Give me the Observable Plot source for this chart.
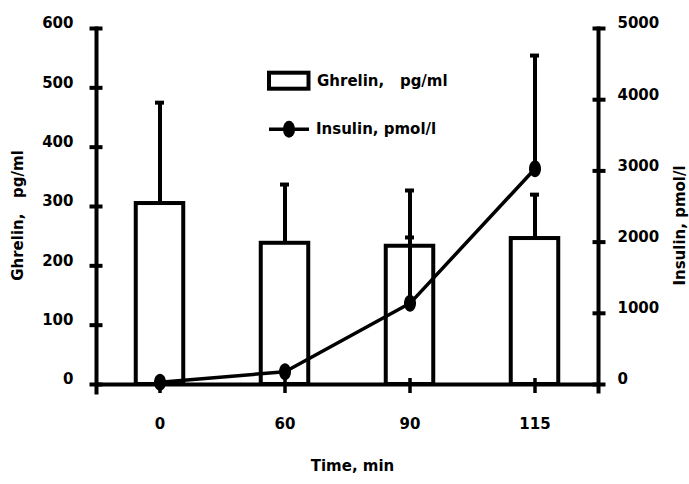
<!DOCTYPE html>
<html>
<head>
<meta charset="utf-8">
<script src="https://cdn.jsdelivr.net/npm/d3@7"></script>
<script src="https://cdn.jsdelivr.net/npm/@observablehq/plot@0.6"></script>
<style>
  html, body { margin: 0; padding: 0; background: #fff; }
  svg text { white-space: pre; }
</style>
</head>
<body>
<div id="chart"></div>
<script>
// ---- data ----
const times = ["0", "60", "90", "115"];
const ghrelin = [305, 238, 233, 246];          // pg/ml (bar heights)
const ghrelinTop = [475, 337, 327, 320];       // mean + SD
const insulin = [30, 180, 1140, 3030];         // pmol/l
const insulinTop = [null, null, 2065, 4620];   // mean + SD
const ghrelinTicks = [0, 100, 200, 300, 400, 500, 600];
const insulinTicks = [0, 1000, 2000, 3000, 4000, 5000];
const legendLabels = ["Ghrelin,   pg/ml", "Insulin, pmol/l"];
const yLabel = "Ghrelin,   pg/ml";
const y2Label = "Insulin, pmol/l";
const xLabel = "Time, min";

// insulin is drawn against the right axis: 0–5000 maps onto 0–600
const k = 600 / 5000;

const rows = times.map((t, i) => ({
  t, g: ghrelin[i], gTop: ghrelinTop[i], ins: insulin[i] * k,
  insTop: insulinTop[i] == null ? null : insulinTop[i] * k
}));

const FONT = "DejaVu Sans";
const FS = 15;

const ellipse = {
  draw(ctx) {
    const rx = 6, ry = 8.5, c = 0.5523;
    ctx.moveTo(rx, 0);
    ctx.bezierCurveTo(rx, ry * c, rx * c, ry, 0, ry);
    ctx.bezierCurveTo(-rx * c, ry, -rx, ry * c, -rx, 0);
    ctx.bezierCurveTo(-rx, -ry * c, -rx * c, -ry, 0, -ry);
    ctx.bezierCurveTo(rx * c, -ry, rx, -ry * c, rx, 0);
    ctx.closePath();
  }
};

function legend() {
  const g = d3.create("svg:g");
  g.append("rect").attr("x", 269).attr("y", 72.7).attr("width", 39.5).attr("height", 16)
    .attr("fill", "white").attr("stroke", "black").attr("stroke-width", 4);
  g.append("text").attr("x", 317).attr("y", 86).text(legendLabels[0])
    .attr("text-anchor", "start")
    .attr("font-family", FONT).attr("font-weight", "bold").attr("font-size", FS)
    .style("white-space", "pre");
  g.append("line").attr("x1", 269).attr("x2", 309).attr("y1", 129.3).attr("y2", 129.3)
    .attr("stroke", "black").attr("stroke-width", 3.5);
  g.append("ellipse").attr("cx", 289).attr("cy", 129.3).attr("rx", 6).attr("ry", 8.5).attr("fill", "black");
  g.append("text").attr("x", 316).attr("y", 133.5).text(legendLabels[1])
    .attr("text-anchor", "start")
    .attr("font-family", FONT).attr("font-weight", "bold").attr("font-size", FS);
  return g.node();
}

const noText = () => "";
const insTickPos = insulinTicks.map(v => v * k);

const chart = Plot.plot({
  width: 689,
  height: 484,
  marginLeft: 96,
  marginRight: 91,
  marginTop: 28,
  marginBottom: 100,
  style: {fontFamily: FONT, fontWeight: "bold", fontSize: "15px", background: "white", color: "black"},
  x: {type: "band", domain: times, padding: 0, axis: null},
  y: {domain: [0, 600], axis: null},
  marks: [
    // bars
    Plot.barY(rows, {x: "t", y: "g", fill: "white", stroke: "black", strokeWidth: 4, insetLeft: 38.75, insetRight: 38.75}),
    // ghrelin error bars
    Plot.ruleX(rows, {x: "t", y1: "g", y2: "gTop", stroke: "black", strokeWidth: 4}),
    Plot.tickY(rows, {x: "t", y: "gTop", stroke: "black", strokeWidth: 4, insetLeft: 58, insetRight: 58}),
    // axes lines
    Plot.ruleY([0], {stroke: "black", strokeWidth: 4}),
    Plot.frame({anchor: "left", stroke: "black", strokeWidth: 4, insetBottom: -8}),
    Plot.frame({anchor: "right", stroke: "black", strokeWidth: 4, insetBottom: -7}),
    // left axis
    Plot.axisY(ghrelinTicks, {anchor: "left", tickSize: 6.5, strokeWidth: 4, tickFormat: noText, label: null}),
    Plot.axisY(ghrelinTicks, {anchor: "left", tickSize: 6.5, strokeWidth: 4, dx: 6.5, tickFormat: noText, label: null}),
    Plot.axisY(ghrelinTicks, {anchor: "left", tickSize: 0, tickPadding: 23, dy: -5, fontSize: FS, fontWeight: "bold", label: null}),
    // right axis
    Plot.axisY(insTickPos, {anchor: "right", tickSize: 6.5, strokeWidth: 4, tickFormat: noText, label: null}),
    Plot.axisY(insTickPos, {anchor: "right", tickSize: 6.5, strokeWidth: 4, dx: -6.5, tickFormat: noText, label: null}),
    Plot.axisY(insTickPos, {anchor: "right", tickSize: 0, tickPadding: 19, dy: -5, fontSize: FS, fontWeight: "bold", label: null,
      tickFormat: d => String(Math.round(d / k))}),
    // x axis
    Plot.axisX(times, {anchor: "bottom", tickSize: 9, strokeWidth: 3.5, tickFormat: noText, label: null}),
    Plot.axisX(times, {anchor: "bottom", tickSize: 6, strokeWidth: 3.5, dy: -6, tickFormat: noText, label: null}),
    Plot.axisX(times, {anchor: "bottom", tickSize: 0, tickPadding: 34, fontSize: FS, fontWeight: "bold", label: null}),
    // insulin line
    Plot.line(rows, {x: "t", y: "ins", stroke: "black", strokeWidth: 3.5}),
    Plot.ruleX(rows.filter(d => d.insTop != null), {x: "t", y1: "ins", y2: "insTop", stroke: "black", strokeWidth: 4}),
    Plot.tickY(rows.filter(d => d.insTop != null), {x: "t", y: "insTop", stroke: "black", strokeWidth: 4, insetLeft: 58, insetRight: 58}),
    Plot.dot(rows, {x: "t", y: "ins", symbol: ellipse, fill: "black", stroke: null}),
    // axis titles
    Plot.text([yLabel], {text: d => d, frameAnchor: "left", textAnchor: "middle", lineAnchor: "middle", rotate: -90, dx: -78, dy: 9, fontSize: FS, fontWeight: "bold"}),
    Plot.text([y2Label], {text: d => d, frameAnchor: "right", textAnchor: "middle", lineAnchor: "middle", rotate: -90, dx: 82, dy: 19, fontSize: FS, fontWeight: "bold"}),
    Plot.text([xLabel], {text: d => d, frameAnchor: "bottom", textAnchor: "middle", lineAnchor: "middle", dx: 5, dy: 82, fontSize: FS, fontWeight: "bold"}),
    legend
  ]
});
document.getElementById("chart").appendChild(chart);
</script>
</body>
</html>
